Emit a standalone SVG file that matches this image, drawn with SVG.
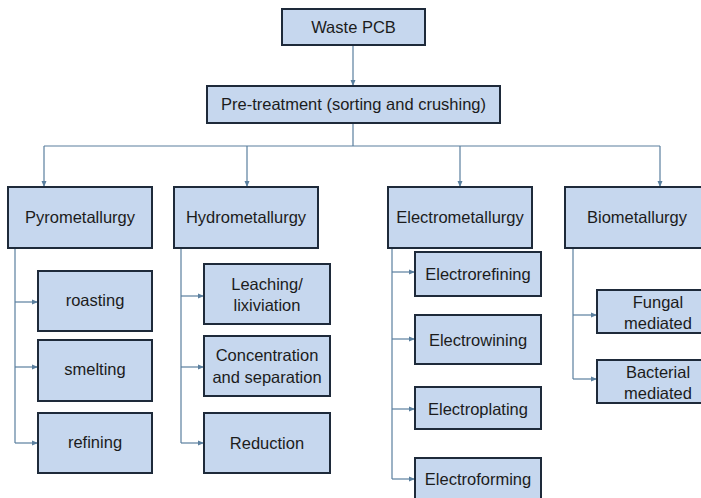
<svg xmlns="http://www.w3.org/2000/svg" width="701" height="498" viewBox="0 0 701 498">
  <defs>
    <marker id="arr" viewBox="0 0 6 6" refX="6" refY="3" markerWidth="6" markerHeight="6" markerUnits="userSpaceOnUse" orient="auto">
      <path d="M0,0.5 L6,3 L0,5.5 Z" fill="#5a7f9e"/>
    </marker>
  </defs>
  <style>
    .box { fill: #c6d7ee; stroke: #1e2a3a; stroke-width: 2; }
    .lbl { font-family: "Liberation Sans", Arial, sans-serif; font-size: 16.5px; fill: #1c1c1c; text-anchor: middle; }
    .con { fill: none; stroke: #5a7f9e; stroke-width: 1.2; }
    .arr { marker-end: url(#arr); }
  </style>
  <rect width="701" height="498" fill="#ffffff"/>

  <g id="connectors">
    <line class="con arr" x1="353" y1="45" x2="353" y2="86"/>
    <polyline class="con" points="353,123 353,146"/>
    <line class="con" x1="44" y1="146" x2="660" y2="146"/>
    <line class="con arr" x1="44" y1="146" x2="44" y2="187"/>
    <line class="con arr" x1="247" y1="146" x2="247" y2="187"/>
    <line class="con arr" x1="460" y1="146" x2="460" y2="187"/>
    <line class="con arr" x1="660" y1="146" x2="660" y2="187"/>
    <!-- pyrometallurgy branch -->
    <polyline class="con" points="15,248 15,443"/>
    <line class="con arr" x1="15" y1="302" x2="38" y2="302"/>
    <line class="con arr" x1="15" y1="367" x2="38" y2="367"/>
    <line class="con arr" x1="15" y1="443" x2="38" y2="443"/>
    <!-- hydrometallurgy branch -->
    <polyline class="con" points="181,248 181,443"/>
    <line class="con arr" x1="181" y1="296" x2="204" y2="296"/>
    <line class="con arr" x1="181" y1="367" x2="204" y2="367"/>
    <line class="con arr" x1="181" y1="443" x2="204" y2="443"/>
    <!-- electrometallurgy branch -->
    <polyline class="con" points="392,248 392,479"/>
    <line class="con arr" x1="392" y1="272" x2="415" y2="272"/>
    <line class="con arr" x1="392" y1="339" x2="415" y2="339"/>
    <line class="con arr" x1="392" y1="409" x2="415" y2="409"/>
    <line class="con arr" x1="392" y1="479" x2="415" y2="479"/>
    <!-- biometallurgy branch -->
    <polyline class="con" points="573,248 573,379"/>
    <line class="con arr" x1="573" y1="315" x2="597" y2="315"/>
    <line class="con arr" x1="573" y1="379" x2="597" y2="379"/>
  </g>

  <g id="waste-pcb">
    <rect class="box" x="282" y="9" width="143" height="36"/>
    <text class="lbl" x="353.5" y="33">Waste PCB</text>
  </g>
  <g id="pre-treatment">
    <rect class="box" x="207" y="86" width="293" height="37"/>
    <text class="lbl" x="353.5" y="110">Pre-treatment (sorting and crushing)</text>
  </g>

  <g id="pyrometallurgy">
    <rect class="box" x="8" y="187" width="144" height="61"/>
    <text class="lbl" x="80" y="223">Pyrometallurgy</text>
  </g>
  <g id="hydrometallurgy">
    <rect class="box" x="174" y="187" width="144" height="61"/>
    <text class="lbl" x="246" y="223">Hydrometallurgy</text>
  </g>
  <g id="electrometallurgy">
    <rect class="box" x="388" y="187" width="144" height="61"/>
    <text class="lbl" x="460" y="223">Electrometallurgy</text>
  </g>
  <g id="biometallurgy">
    <rect class="box" x="565" y="187" width="145" height="61"/>
    <text class="lbl" x="637" y="223">Biometallurgy</text>
  </g>

  <g id="roasting">
    <rect class="box" x="38" y="271" width="114" height="60"/>
    <text class="lbl" x="95" y="306">roasting</text>
  </g>
  <g id="smelting">
    <rect class="box" x="38" y="340" width="114" height="61"/>
    <text class="lbl" x="95" y="375">smelting</text>
  </g>
  <g id="refining">
    <rect class="box" x="38" y="413" width="114" height="60"/>
    <text class="lbl" x="95" y="448">refining</text>
  </g>

  <g id="leaching">
    <rect class="box" x="204" y="264" width="126" height="60"/>
    <text class="lbl" x="267" y="290">Leaching/</text>
    <text class="lbl" x="267" y="311">lixiviation</text>
  </g>
  <g id="concentration">
    <rect class="box" x="204" y="336" width="126" height="60"/>
    <text class="lbl" x="267" y="361">Concentration</text>
    <text class="lbl" x="267" y="383">and separation</text>
  </g>
  <g id="reduction">
    <rect class="box" x="204" y="413" width="126" height="60"/>
    <text class="lbl" x="267" y="449">Reduction</text>
  </g>

  <g id="electrorefining">
    <rect class="box" x="415" y="252" width="126" height="44"/>
    <text class="lbl" x="478" y="280">Electrorefining</text>
  </g>
  <g id="electrowining">
    <rect class="box" x="415" y="315" width="126" height="49"/>
    <text class="lbl" x="478" y="346">Electrowining</text>
  </g>
  <g id="electroplating">
    <rect class="box" x="415" y="387" width="126" height="42"/>
    <text class="lbl" x="478" y="415">Electroplating</text>
  </g>
  <g id="electroforming">
    <rect class="box" x="415" y="458" width="126" height="50"/>
    <text class="lbl" x="478" y="485">Electroforming</text>
  </g>

  <g id="fungal">
    <rect class="box" x="597" y="290" width="122" height="43"/>
    <text class="lbl" x="658" y="308">Fungal</text>
    <text class="lbl" x="658" y="329">mediated</text>
  </g>
  <g id="bacterial">
    <rect class="box" x="597" y="360" width="122" height="43"/>
    <text class="lbl" x="658" y="378">Bacterial</text>
    <text class="lbl" x="658" y="399">mediated</text>
  </g>
</svg>
